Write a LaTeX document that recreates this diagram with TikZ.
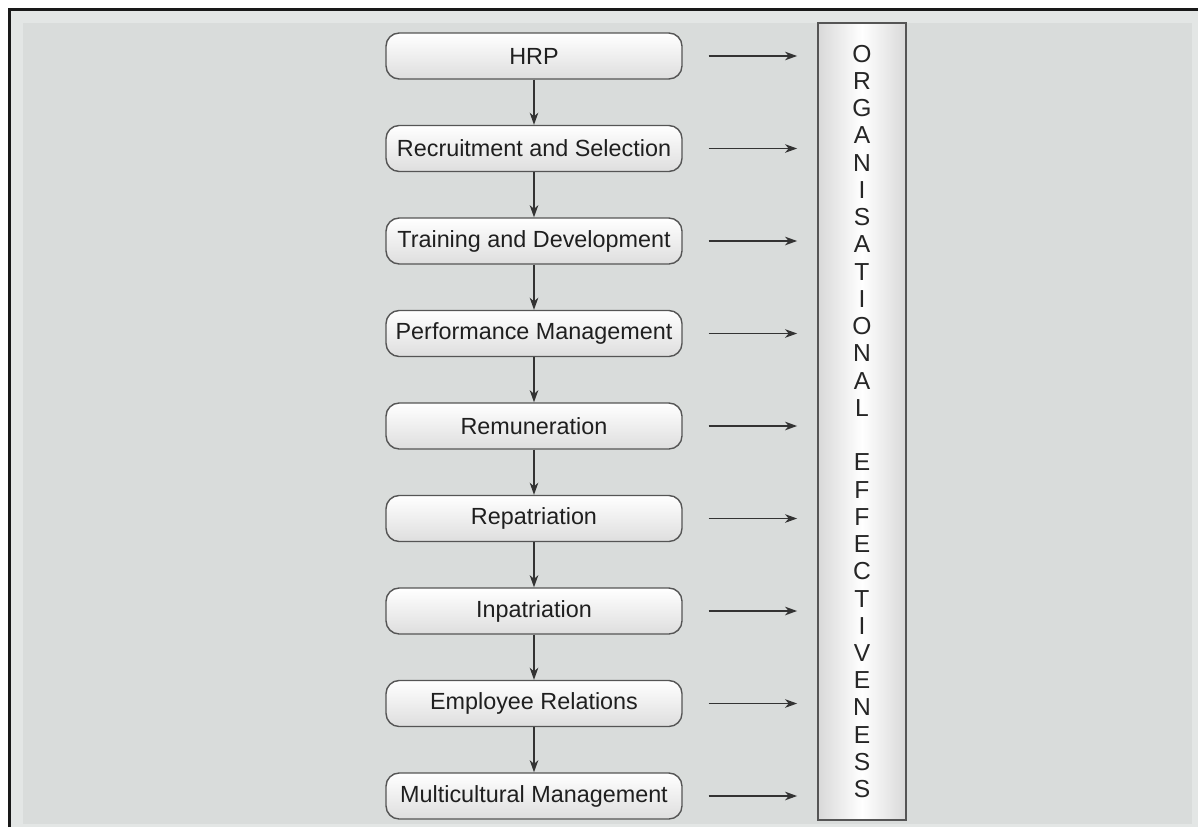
\documentclass[tikz,border=0pt]{standalone}
\usepackage{fontspec}
\setmainfont{Liberation Sans}
\usetikzlibrary{arrows.meta,positioning}
\definecolor{panel}{HTML}{D9DCDB}
\definecolor{panellight}{HTML}{E3E6E5}
\definecolor{edge}{HTML}{555555}

\begin{document}
\begin{tikzpicture}[
    box/.style={draw=edge, rounded corners=7.5pt, minimum width=5.92cm, minimum height=0.92cm, inner sep=0pt, top color=white, bottom color=black!13, line width=0.8pt, font=\fontsize{13.3}{15}\selectfont, text=black!88},
    col/.style={draw=edge, minimum width=1.76cm, minimum height=15.94cm, inner sep=0pt, left color=black!15, right color=black!15, middle color=white, line width=1pt, align=center, font=\fontsize{14}{15.5}\selectfont, text=black!85},
    varr/.style={-{Stealth[length=2.4mm, width=1.7mm, inset=0.7mm]}, line width=0.9pt, black!80},
    harr/.style={varr, shorten <=0.52cm, shorten >=0.4cm},
]
\useasboundingbox (0,0) rectangle (23.96,-16.54);

% Panel
\fill[white] (0,0) rectangle (23.96,-16.54);
\fill[panel] (0.19,-0.19) rectangle (23.96,-16.54);
\fill[panellight] (0.22,-0.22) rectangle (23.96,-0.46);
\fill[panellight] (0.22,-0.22) rectangle (0.46,-16.54);
\fill[panellight] (23.84,-0.22) rectangle (23.96,-16.54);
\fill[panellight] (0.22,-16.48) rectangle (23.96,-16.54);
\draw[black!90, line width=1.7pt] (0.19,-16.54) -- (0.19,-0.19) -- (23.96,-0.19);

% HR functions
\node[box] (hrp) at (10.68,-1.12) {HRP};
\node[box] (recruit) at (10.68,-2.97) {Recruitment and Selection};
\node[box] (train) at (10.68,-4.82) {Training and Development};
\node[box] (perf) at (10.68,-6.67) {Performance Management};
\node[box] (remun) at (10.68,-8.52) {Remuneration};
\node[box] (repat) at (10.68,-10.37) {Repatriation};
\node[box] (inpat) at (10.68,-12.22) {Inpatriation};
\node[box] (emprel) at (10.68,-14.07) {Employee Relations};
\node[box] (multi) at (10.68,-15.92) {Multicultural Management};

% Outcome column
\node[col] (orgeff) at (17.24,-8.43) {O\\R\\G\\A\\N\\I\\S\\A\\T\\I\\O\\N\\A\\L\\[15.5pt]E\\F\\F\\E\\C\\T\\I\\V\\E\\N\\E\\S\\S};

% Chain
\draw[varr] (hrp) -- (recruit);
\draw[varr] (recruit) -- (train);
\draw[varr] (train) -- (perf);
\draw[varr] (perf) -- (remun);
\draw[varr] (remun) -- (repat);
\draw[varr] (repat) -- (inpat);
\draw[varr] (inpat) -- (emprel);
\draw[varr] (emprel) -- (multi);

% Into the column
\draw[harr] (hrp) -- (hrp -| orgeff.west);
\draw[harr] (recruit) -- (recruit -| orgeff.west);
\draw[harr] (train) -- (train -| orgeff.west);
\draw[harr] (perf) -- (perf -| orgeff.west);
\draw[harr] (remun) -- (remun -| orgeff.west);
\draw[harr] (repat) -- (repat -| orgeff.west);
\draw[harr] (inpat) -- (inpat -| orgeff.west);
\draw[harr] (emprel) -- (emprel -| orgeff.west);
\draw[harr] (multi) -- (multi -| orgeff.west);
\end{tikzpicture}
\end{document}
